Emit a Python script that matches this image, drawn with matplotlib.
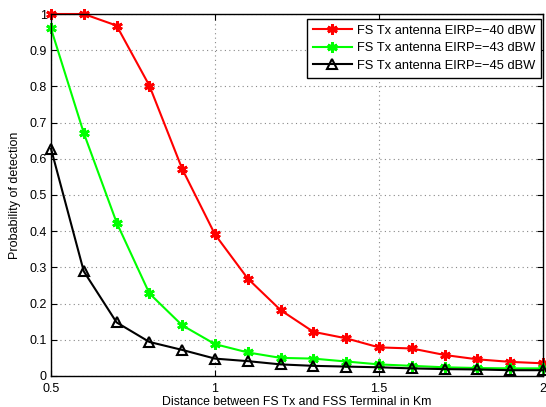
import numpy as np
import matplotlib
matplotlib.use('Agg')
import matplotlib.pyplot as plt

# Data
distance = [0.5, 0.6, 0.7, 0.8, 0.9, 1.0, 1.1, 1.2, 1.3, 1.4, 1.5, 1.6, 1.7, 1.8, 1.9, 2.0]
pd_40 = [1.0, 1.0, 0.968, 0.802, 0.572, 0.391, 0.269, 0.182, 0.122, 0.104, 0.079, 0.076, 0.058, 0.046, 0.039, 0.035]
pd_43 = [0.96, 0.671, 0.424, 0.228, 0.140, 0.088, 0.065, 0.050, 0.048, 0.040, 0.032, 0.028, 0.024, 0.022, 0.021, 0.021]
pd_45 = [0.628, 0.289, 0.148, 0.094, 0.072, 0.048, 0.041, 0.032, 0.028, 0.026, 0.024, 0.021, 0.019, 0.018, 0.016, 0.016]
labels = ['FS Tx antenna EIRP=\u221240 dBW',
          'FS Tx antenna EIRP=\u221243 dBW',
          'FS Tx antenna EIRP=\u221245 dBW']
xticks = [0.5, 1, 1.5, 2]
yticks = np.arange(0, 1.01, 0.1)

plt.rcParams['font.family'] = ['Liberation Sans', 'DejaVu Sans']
fig = plt.figure(figsize=(5.46, 4.07), dpi=100)
ax = fig.add_axes([0.0934, 0.0762, 0.9011, 0.8894])

ax.plot(distance, pd_40, color='#ff0000', lw=1.5, marker=(6, 2, 0), ms=7.5, mew=2,
        clip_on=False, label=labels[0])
ax.plot(distance, pd_43, color='#00ff00', lw=1.5, marker=(6, 2, 0), ms=7.5, mew=2,
        clip_on=False, label=labels[1])
ax.plot(distance, pd_45, color='black', lw=1.5, marker='^', ms=7, mew=1.5,
        markerfacecolor='none', clip_on=False, label=labels[2])

ax.set_xlim(0.5, 2)
ax.set_ylim(0, 1)
ax.set_xticks(xticks)
ax.set_xticklabels(['0.5', '1', '1.5', '2'])
ax.set_yticks(yticks)
ax.set_yticklabels(['0'] + [f'{v:.1f}' for v in yticks[1:-1]] + ['1'])
ax.tick_params(direction='in', top=True, right=True, labelsize=9, length=4, pad=3)
ax.tick_params(axis='x', pad=5)
ax.grid(True, linestyle=(0, (1, 3)), color='#888888', lw=0.8)
for s in ax.spines.values():
    s.set_linewidth(1.0)

ax.set_xlabel('Distance between FS Tx and FSS Terminal in Km', fontsize=8.8, labelpad=1)
ax.set_ylabel('Probability of detection', fontsize=9, labelpad=6)

leg = ax.legend(loc='upper right', bbox_to_anchor=(541 / 546, 1 - 19 / 407),
                bbox_transform=fig.transFigure, fontsize=9.3, fancybox=False,
                framealpha=1, edgecolor='black', borderaxespad=0, handlelength=3.0,
                handletextpad=0.4, labelspacing=0.42, borderpad=0.45)
leg.get_frame().set_linewidth(1.0)

fig.savefig('out.png', dpi=100)
